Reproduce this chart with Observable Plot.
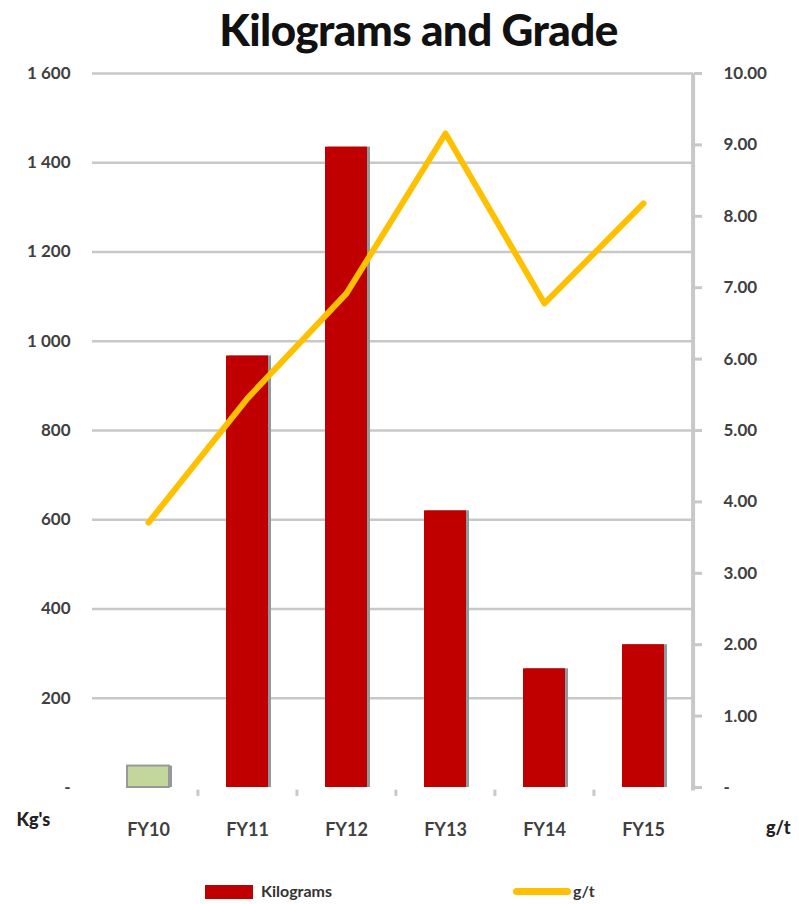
<!DOCTYPE html>
<html><head><meta charset="utf-8">
<script src="https://cdn.jsdelivr.net/npm/d3@7"></script>
<script src="https://cdn.jsdelivr.net/npm/@observablehq/plot@0.6"></script>
<style>
body{margin:0;background:#fff;font-family:Lato,"Open Sans",sans-serif;}
#title{height:60px;text-align:center;font-weight:900;font-size:44px;line-height:58px;color:#111;padding-left:38px;letter-spacing:-0.6px;}
#legend{position:relative;height:54px;font-weight:700;font-size:16px;color:#333;}
</style></head><body>
<div id="title">Kilograms and Grade</div>
<div id="chart"></div>
<div id="legend"></div>
<script>
const years = ["FY10","FY11","FY12","FY13","FY14","FY15"];
const kilograms = [48, 967, 1435, 620, 266, 320];
const grade = [3.71, 5.45, 6.92, 9.16, 6.78, 8.18];
const kgTicks = [0,200,400,600,800,1000,1200,1400,1600];
const gtTicks = [0,1,2,3,4,5,6,7,8,9,10];
const kgPerGt = 160;

const data = years.map((y,i)=>({year:y, kg:kilograms[i], gt:grade[i], gtScaled:grade[i]*kgPerGt}));
const fmtKg = v => v===0 ? "-" : d3.format(",")(v).replace(",", " ");
const fmtGt = v => v===0 ? "-" : (v/kgPerGt).toFixed(2);

const W = 799, ML = 98, MR = 106;
const halfStep = (W - ML - MR) / years.length / 2;

const chart = Plot.plot({
  width: W, height: 790,
  marginTop: 13, marginBottom: 63, marginLeft: ML, marginRight: MR,
  style: {fontFamily: "Lato, 'Open Sans', sans-serif", fontSize: "17px", fontWeight: 700, color: "#404040"},
  x: {domain: years, paddingInner: 0.58, paddingOuter: 0.29, label: null},
  y: {domain: [0,1600], label: null},
  marks: [
    Plot.ruleY(kgTicks.filter(d=>d>0), {stroke:"#c8c8c8", strokeWidth:2.5, strokeOpacity:1, insetLeft:-6}),
    Plot.ruleX([years[years.length-1]], {x: d=>d, dx: halfStep, y1: 1600, y2: -8, stroke:"#c8c8c8", strokeWidth:4, clip:false}),
    Plot.barY(data, {x:"year", y:"kg", fill:"#8c9c9c", dx:3}),
    Plot.barY(data, {x:"year", y:"kg", fill: d=>d.year==="FY10" ? "#c3d69b" : "#c00000", stroke: d=>d.year==="FY10" ? "#999" : "none", strokeWidth:2}),
    Plot.ruleX(years.slice(1), {x: d=>d, dx: -halfStep, y1: -6, y2: -20, stroke:"#c8c8c8", strokeWidth:3, clip:false}),
    Plot.line(data, {x:"year", y:"gtScaled", stroke:"#ffc000", strokeWidth:6, strokeLinejoin:"round", strokeLinecap:"round"}),
    Plot.axisY(kgTicks, {anchor:"left", tickSize:0, tickPadding:28, tickFormat: fmtKg, fontSize:17, fontWeight:700, fill:"#404040"}),
    Plot.axisY(gtTicks.map(d=>d*kgPerGt), {anchor:"right", tickSize:8, tickPadding:22, stroke:"#c8c8c8", strokeWidth:3, tickFormat: fmtGt, fontSize:17, fontWeight:700, fill:"#404040", textAnchor:"start"}),
    Plot.axisX({tickSize:0, tickPadding:36, fontSize:18, fontWeight:700, fill:"#404040"}),
    Plot.text(["Kg's"], {frameAnchor:"bottom-left", dx:-82, dy:38, fontSize:18, fontWeight:900, fill:"#222", textAnchor:"start"}),
    Plot.text(["g/t"], {frameAnchor:"bottom-right", dx:97, dy:46, fontSize:18, fontWeight:900, fill:"#222", textAnchor:"end"})
  ]
});
document.getElementById("chart").appendChild(chart);

const legendItems = [
  {label:"Kilograms", color:"#c00000", type:"rect", x:205},
  {label:"g/t", color:"#ffc000", type:"line", x:513}
];
const lg = document.getElementById("legend");
for (const it of legendItems) {
  const sw = document.createElement("div");
  sw.style.position = "absolute";
  sw.style.left = it.x + "px";
  if (it.type === "rect") { sw.style.top="35px"; sw.style.width="48px"; sw.style.height="14px"; }
  else { sw.style.top="38px"; sw.style.width="58px"; sw.style.height="7px"; sw.style.borderRadius="4px"; }
  sw.style.background = it.color;
  lg.appendChild(sw);
  const t = document.createElement("div");
  t.textContent = it.label;
  t.style.position = "absolute";
  t.style.left = (it.x + (it.type==="rect" ? 56 : 60)) + "px";
  t.style.top = "31px";
  lg.appendChild(t);
}
</script>
</body></html>
